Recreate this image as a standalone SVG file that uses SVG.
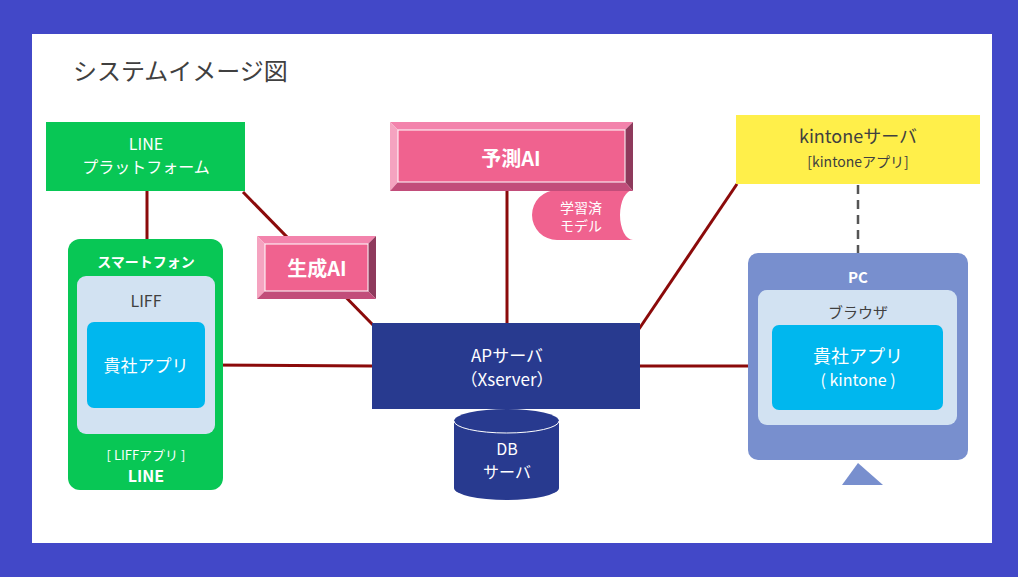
<svg xmlns="http://www.w3.org/2000/svg" width="1018" height="577" viewBox="0 0 1018 577">
<style>
text{font-family:"Noto Sans CJK JP","Liberation Sans",sans-serif;text-anchor:middle}
.w{fill:#ffffff}
.d{fill:#404040}
.b{font-weight:bold}
.con{stroke:#8B0A0A;stroke-width:3;fill:none}
.dash{stroke:#555555;stroke-width:2.5;stroke-dasharray:9,6;fill:none}
.face{fill:#F0628F;stroke:#ffffff;stroke-width:1}
.bt{fill:#F383AC}
.bl{fill:#F5A3C0}
.br{fill:#8E3A5C}
.bb{fill:#C24D7A}
</style>
<rect x="0" y="0" width="1018" height="577" fill="#4248C8"/>
<rect x="32" y="34" width="960" height="509" fill="#ffffff"/>
<text x="73" y="80" style="text-anchor:start;font-size:24px" class="d">システムイメージ図</text>

<g id="connectors">
<line class="con" x1="147" y1="191" x2="147" y2="240"/>
<line class="con" x1="243" y1="192" x2="373" y2="325"/>
<line class="con" x1="205" y1="365" x2="372" y2="366"/>
<line class="con" x1="507" y1="191" x2="507" y2="323"/>
<line class="con" x1="639" y1="329" x2="737" y2="184"/>
<line class="con" x1="640" y1="366" x2="772" y2="366"/>
<line class="dash" x1="858" y1="185" x2="858" y2="253"/>
</g>

<g id="line-platform">
<rect x="46" y="122" width="199" height="69" fill="#08C755"/>
<text x="146" y="150" class="w" style="font-size:16px">LINE</text>
<text x="146" y="173" class="w" style="font-size:16px">プラットフォーム</text>
</g>

<g id="smartphone">
<rect x="68" y="239" width="155" height="251" rx="12" fill="#08C755"/>
<text x="146" y="267" class="w b" style="font-size:14px">スマートフォン</text>
<rect x="77" y="276" width="138" height="158" rx="9" fill="#D2E2F2"/>
<text x="146" y="307" class="d" style="font-size:16px">LIFF</text>
<rect x="87" y="322" width="118" height="86" rx="7" fill="#00B7EE"/>
<text x="146" y="372" class="w" style="font-size:17px">貴社アプリ</text>
<text x="146" y="460" class="w" style="font-size:13px">[ LIFFアプリ ]</text>
<text x="146" y="482" class="w b" style="font-size:16px">LINE</text>
</g>

<g id="seisei-ai">
<polygon class="bt" points="257,236 376,236 368,244 265,244"/>
<polygon class="bl" points="257,236 265,244 265,291 257,299"/>
<polygon class="br" points="376,236 376,299 368,291 368,244"/>
<polygon class="bb" points="257,299 265,291 368,291 376,299"/>
<rect class="face" x="265" y="244" width="103" height="47"/>
<text x="317" y="276" class="w b" style="font-size:20px">生成AI</text>
</g>

<g id="model">
<path d="M633,190 A13,25 0 0 0 633,240 H557 A25,25 0 0 1 557,190 Z" fill="#F0628F"/>
<text x="581" y="213" class="w" style="font-size:14px">学習済</text>
<text x="581" y="231" class="w" style="font-size:14px">モデル</text>
</g>

<g id="yosoku-ai">
<polygon class="bt" points="390,122 633,122 625,130 398,130"/>
<polygon class="bl" points="390,122 398,130 398,182 390,191"/>
<polygon class="br" points="633,122 633,191 625,182 625,130"/>
<polygon class="bb" points="390,191 398,182 625,182 633,191"/>
<rect class="face" x="398" y="130" width="227" height="52"/>
<text x="511" y="166" class="w b" style="font-size:20px">予測AI</text>
</g>

<g id="ap-server">
<rect x="372" y="323" width="268" height="86" fill="#283A8F"/>
<text x="507" y="362" class="w" style="font-size:17px">APサーバ</text>
<text x="507" y="386" class="w" style="font-size:17px">（Xserver）</text>
</g>

<g id="db-server">
<path d="M454,421 A52.5,12 0 0 1 559,421 V488 A52.5,12 0 0 1 454,488 Z" fill="#283A8F"/>
<path d="M454,421 A52.5,12 0 0 0 559,421" fill="none" stroke="#ffffff" stroke-width="1"/>
<text x="507" y="455" class="w" style="font-size:16px">DB</text>
<text x="507" y="478" class="w" style="font-size:16px">サーバ</text>
</g>

<g id="kintone-server">
<rect x="736" y="115" width="244" height="69" fill="#FFEF4A"/>
<text x="858" y="143" class="d" style="font-size:18px">kintoneサーバ</text>
<text x="858" y="167" class="d" style="font-size:14px">[kintoneアプリ]</text>
</g>

<g id="pc">
<rect x="748" y="253" width="220" height="207" rx="10" fill="#788FCE"/>
<text x="858" y="283" class="w b" style="font-size:15px">PC</text>
<rect x="758" y="290" width="199" height="135" rx="9" fill="#D2E2F2"/>
<text x="858" y="318" class="d" style="font-size:15px">ブラウザ</text>
<rect x="772" y="325" width="171" height="85" rx="7" fill="#00B7EE"/>
<text x="858" y="363" class="w" style="font-size:18px">貴社アプリ</text>
<text x="858" y="386" class="w" style="font-size:16px">( kintone )</text>
<polygon points="858,463 883,485 842,485" fill="#788FCE"/>
</g>
</svg>
